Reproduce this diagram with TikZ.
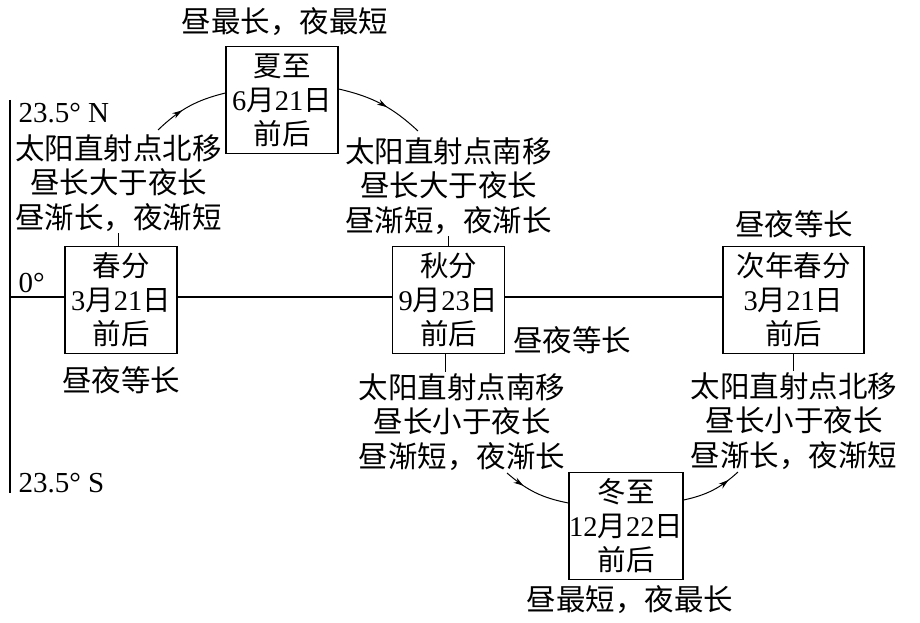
\documentclass[tikz,border=0pt]{standalone}
\usepackage{fontspec}
\setmainfont{Liberation Serif}
\newfontfamily\cjk{Noto Sans CJK SC}
\newcommand\lat[1]{{\rmfamily #1}}
\usetikzlibrary{arrows.meta, decorations.markings}

\begin{document}
\begin{tikzpicture}[x=1pt, y=1pt, line width=1.2pt]

    % Styles for the boxes of the seasons, the notes round them
    % and the curved arrows with a tip along the way
    \tikzset{
        season/.style={draw, align=center, font=\cjk\fontsize{28.5}{34}\selectfont,
            minimum width=112pt, minimum height=107pt, inner sep=0pt},
        note/.style={align=center, font=\cjk\fontsize{29.5}{34.5}\selectfont, inner sep=1pt},
        degree/.style={anchor=west, font=\fontsize{29}{34}\selectfont, inner sep=0pt},
        flow/.style={postaction={decorate}, decoration={markings,
            mark=at position #1 with {\arrow{Stealth[length=10pt, width=6pt]}}}}
    }

    \useasboundingbox (0, 0) rectangle (920, 622);

    % Latitude axis on the left
    \begin{scope}
        \coordinate (north) at (10, 522);
        \coordinate (south) at (10, 129);
        \coordinate (eq) at (10, 325);
        \draw (north) -- (south);
        \node (latn) at (18, 509) [degree] {23.5° N};
        \node (lat0) at (18, 339) [degree] {0°};
        \node (lats) at (18, 139) [degree] {23.5° S};
    \end{scope}

    % The boxes of the seasons
    \begin{scope}
        \node (chunfen) at (121, 322) [season] {春分\\\lat{3}月\lat{21}日\\前后};
        \node (xiazhi) at (282, 522) [season] {夏至\\\lat{6}月\lat{21}日\\前后};
        \node (qiufen) at (448.5, 322) [season] {秋分\\\lat{9}月\lat{23}日\\前后};
        \node (cinian) at (793.5, 322) [season, minimum width=141pt] {次年春分\\\lat{3}月\lat{21}日\\前后};
        \node (dongzhi) at (626, 96) [season] {冬至\\\lat{12}月\lat{22}日\\前后};
    \end{scope}

    % Equator line through the equinoxes
    \draw (eq) -- (eq -| chunfen.west);
    \draw (chunfen.east |- eq) -- (qiufen.west |- eq);
    \draw (qiufen.east |- eq) -- (cinian.west |- eq);

    % Notes on day and night
    \begin{scope}
        \node (summer) at (285, 600) [note] {昼最长，夜最短};
        \node (winter) at (630, 22) [note] {昼最短，夜最长};
        \node (eqa) at (121, 242) [note] {昼夜等长};
        \node (eqb) at (572, 282) [note] {昼夜等长};
        \node (eqc) at (794, 398) [note] {昼夜等长};
        \node (springnote) at (118.5, 439) [note] {太阳直射点北移\\昼长大于夜长\\昼渐长，夜渐短};
        \node (summernote) at (448.5, 436) [note] {太阳直射点南移\\昼长大于夜长\\昼渐短，夜渐长};
        \node (autumnnote) at (462, 200) [note] {太阳直射点南移\\昼长小于夜长\\昼渐短，夜渐长};
        \node (winternote) at (794, 201) [note] {太阳直射点北移\\昼长小于夜长\\昼渐长，夜渐短};
    \end{scope}

    % Short ticks from the notes to the boxes
    \draw (springnote.south) -- (springnote.south |- chunfen.north);
    \draw (summernote.south) -- (summernote.south |- qiufen.north);
    \draw ([xshift=-3pt]qiufen.south) -- ([xshift=-3pt]qiufen.south |- autumnnote.north);
    \draw (cinian.south) -- (cinian.south |- winternote.north);

    % Curved arrows to and from the solstices
    \begin{scope}[line width=1pt]
        \coordinate (a) at (158, 492);
        \coordinate (b) at (418, 491);
        \coordinate (c) at (507, 149);
        \coordinate (d) at (738, 150);
        \draw[flow=0.4] (a) to[bend left=15] ([yshift=7pt]xiazhi.west);
        \draw[flow=0.57] ([yshift=11pt]xiazhi.east) to[bend left=15] (b);
        \draw[flow=0.3] (c) to[bend right=15] ([yshift=23pt]dongzhi.west);
        \draw[flow=0.8] ([yshift=26pt]dongzhi.east) to[bend right=15] (d);
    \end{scope}

\end{tikzpicture}
\end{document}
